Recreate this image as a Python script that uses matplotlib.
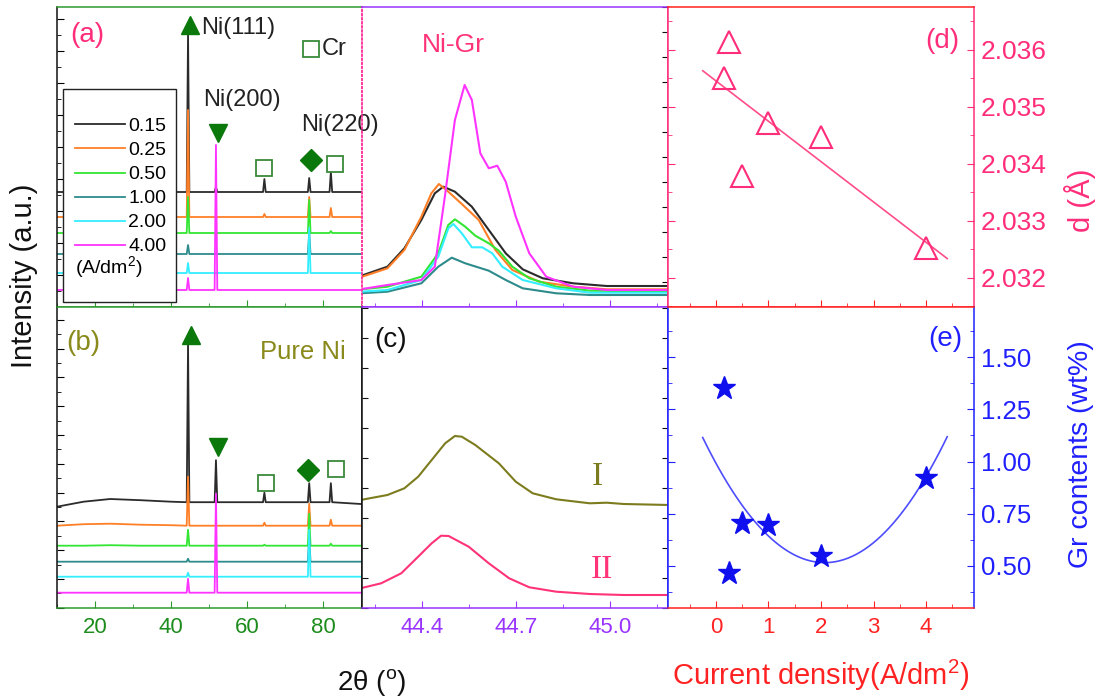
import matplotlib
matplotlib.use('Agg')
import matplotlib.pyplot as plt
import numpy as np
from matplotlib.patches import Rectangle
from matplotlib.ticker import MultipleLocator, FixedLocator, FormatStrFormatter

plt.rcParams['font.family'] = ['Liberation Sans', 'DejaVu Sans']
plt.rcParams['mathtext.fontset'] = 'custom'
plt.rcParams['mathtext.rm'] = 'Liberation Sans'
plt.rcParams['mathtext.it'] = 'Liberation Sans:italic'

# ---------------- data ----------------
current_labels = ['0.15', '0.25', '0.50', '1.00', '2.00', '4.00']
series_colors = ['#2b2b2b', '#ff7f27', '#33e633', '#2e8b8b', '#33eeff', '#ff33ff']

# XRD reflections (2theta) and peak heights above baseline (a.u.)
peak_pos = [44.5, 51.85, 64.6, 76.4, 82.1]

# (a) Ni-Gr full scans
a_base = [115, 90, 74, 53, 34, 17]
a_heights = [[159, 5, 13, 14, 20],
             [107, 0, 3, 20, 9],
             [36, 0, 0, 33, 2],
             [9, 0, 0, 22, 0],
             [10, 0, 0, 45, 0],
             [12, 145, 0, 0, 0]]

# (b) pure Ni full scans (black/orange show a broad hump at low angle)
b_base = [105.5, 82, 62, 46, 31, 15]
b_bg_x = [10, 17, 24, 32, 40, 90]
b_bg_y = [[101, 106, 108.7, 107.5, 106, 103.7],
          [82, 83.5, 84, 83, 82.5, 82],
          [62, 62, 62.5, 62, 62, 62],
          [46, 46, 46, 46, 46, 46],
          [31, 31, 31, 31, 31, 31],
          [15, 15, 15, 15, 15, 15]]
b_heights = [[159, 42, 9.5, 19, 19],
             [49, 0, 3, 22, 6],
             [16, 0, 1, 32, 2],
             [3, 0, 0, 25, 0],
             [4, 0, 0, 47, 0],
             [14, 99, 0, 0, 0]]

# markers for the reflections
a_mark_x = [45.0, 52.3, 64.6, 76.85, 83.3]
a_mark_y = [282, 174, 139, 147, 143]
b_mark_x = [45.3, 52.3, 64.9, 76.0, 83.4]
b_mark_y = [272.7, 161, 125, 137.7, 138.7]
mark_style = ['^', 'v', 's', 'D', 's']

# Ni(111) zoom, Ni-Gr
m_black_x = [44.205, 44.291, 44.345, 44.399, 44.442, 44.469, 44.506, 44.560, 44.614, 44.668, 44.722, 44.786, 44.883, 44.990, 45.19]
m_black_y = [31, 40.3, 58.7, 87, 113.7, 120.3, 115.3, 100.3, 77, 53.7, 37.7, 28.7, 23.7, 21, 21]
m_orange_x = [44.205, 44.291, 44.345, 44.399, 44.431, 44.455, 44.485, 44.528, 44.582, 44.635, 44.689, 44.775, 44.883, 44.990, 45.19]
m_orange_y = [29.7, 38.7, 57, 90.3, 113.7, 123, 115.3, 103, 87, 57, 37, 25.3, 20.3, 17.7, 17.7]
m_green_x = [44.205, 44.291, 44.399, 44.453, 44.485, 44.506, 44.539, 44.571, 44.614, 44.646, 44.689, 44.743, 44.829, 44.937, 45.19]
m_green_y = [17.7, 20.3, 30.3, 53.7, 82, 87.7, 80.3, 71.3, 63.7, 56.3, 40.3, 28.7, 20.3, 16.3, 15.3]
m_teal_x = [44.205, 44.291, 44.399, 44.453, 44.496, 44.539, 44.614, 44.668, 44.722, 44.829, 44.937, 45.19]
m_teal_y = [13.7, 15.3, 23.7, 40.3, 49.3, 43.7, 36.3, 27, 18.7, 13.7, 12, 12]
m_cyan_x = [44.205, 44.291, 44.399, 44.453, 44.485, 44.501, 44.528, 44.560, 44.593, 44.625, 44.657, 44.722, 44.829, 44.937, 45.19]
m_cyan_y = [15.3, 17, 27, 50.3, 78.7, 83, 73.7, 59.7, 59.7, 53.7, 40.3, 27, 18.7, 14.3, 14.3]
m_mag_x = [44.205, 44.291, 44.399, 44.442, 44.474, 44.506, 44.537, 44.560, 44.587, 44.614, 44.641, 44.668, 44.700, 44.743, 44.797, 44.883, 44.990, 45.19]
m_mag_y = [17.7, 22, 27, 40.3, 110.3, 187, 222, 207, 153.7, 138.7, 141.3, 125.3, 90.3, 53.7, 30.3, 20.3, 17, 17]

# Ni(111) zoom, (c) I and II
c1_x = [44.205, 44.291, 44.345, 44.389, 44.432, 44.475, 44.506, 44.528, 44.571, 44.646, 44.700, 44.754, 44.829, 44.936, 44.990, 45.044, 45.19]
c1_y = [107.7, 112.7, 119.4, 131, 147.7, 164.4, 171.7, 171, 162.7, 144.4, 126, 114.4, 108.4, 104.4, 105, 103.7, 102.7]
c2_x = [44.205, 44.271, 44.335, 44.389, 44.432, 44.462, 44.486, 44.550, 44.614, 44.679, 44.743, 44.829, 44.936, 45.044, 45.19]
c2_y = [19.4, 24.4, 34.4, 51, 64.4, 72, 71.7, 61, 44.4, 29.4, 20.4, 16, 13.7, 12.7, 12.7]

# (d) and (e) vs current density
current = [0.15, 0.25, 0.5, 1.0, 2.0, 4.0]
d_spacing = [2.03551, 2.03614, 2.03378, 2.03472, 2.03447, 2.03252]
gr_content = [1.35, 0.466, 0.708, 0.697, 0.549, 0.92]

left_ticks = [20, 40, 60, 80]
mid_ticks = [44.4, 44.7, 45.0]

# ---------------- figure ----------------
W, H = 1102, 699
fig = plt.figure(figsize=(W / 100, H / 100), dpi=100)


def box(x0, y0, x1, y1):
    return [x0 / W, 1 - y1 / H, (x1 - x0) / W, (y1 - y0) / H]


ax_a = fig.add_axes(box(57, 7, 362, 307))
ax_b = fig.add_axes(box(57, 307, 362, 607.7))
ax_m = fig.add_axes(box(362, 7, 668, 307))
ax_c = fig.add_axes(box(362, 307, 668, 607.7))
ax_d = fig.add_axes(box(668, 7, 974, 307))
ax_e = fig.add_axes(box(668, 307, 974, 607.7))

GREEN_T = '#1e8c1e'
PURPLE = '#9933ff'
RED = '#ff2222'
PINK = '#ff2d7a'
BLUE = '#2020ff'
OLIVE = '#8a8a1c'
MARK_G = '#0b780b'


def spines(ax, top, bottom, left, right):
    for side, col in zip(['top', 'bottom', 'left', 'right'], [top, bottom, left, right]):
        ax.spines[side].set_color(col)
        ax.spines[side].set_linewidth(1.1)


def trace(bg_x, bg_y, base, heights):
    xs = list(bg_x)
    ys = list(bg_y)
    for p, h in zip(peak_pos, heights):
        if h > 0:
            xs += [p - 0.35, p, p + 0.35]
            ys += [base, base + h, base]
    order = np.argsort(xs)
    return np.array(xs)[order], np.array(ys)[order]


# ---- (a) ----
lines_a = []
for i in range(6):
    x, y = trace([10, 90.5], [a_base[i], a_base[i]], a_base[i], a_heights[i])
    ln, = ax_a.plot(x, y, color=series_colors[i], lw=1.3)
    lines_a.append(ln)
for mx, my, mk in zip(a_mark_x, a_mark_y, mark_style):
    if mk == 's':
        ax_a.plot(mx, my, mk, ms=11, mfc='white', mec='#3a8a3a', mew=1.3)
    else:
        ax_a.plot(mx, my, mk, ms=13 if mk != 'D' else 11, color=MARK_G)
ax_a.plot(76.85, 257.7, 's', ms=11, mfc='white', mec='#3a8a3a', mew=1.3)
ax_a.text(79.7, 257.7, 'Cr', fontsize=17, va='center', ha='left', color='#222222')
ax_a.text(48.0, 278.7, 'Ni(111)', fontsize=17, va='center', ha='left', color='#222222')
ax_a.text(48.4, 207, 'Ni(200)', fontsize=17, va='center', ha='left', color='#222222')
ax_a.text(74.2, 182, 'Ni(220)', fontsize=17, va='center', ha='left', color='#222222',
          zorder=10)
ax_a.text(17.9, 272, '(a)', fontsize=20, va='center', ha='center', color=PINK)

# legend frame drawn separately so its padding can match the original box
ax_a.add_patch(Rectangle((0.0197, 0.0177), 0.3705, 0.709, transform=ax_a.transAxes,
                         fc='white', ec='#222222', lw=1.0, zorder=4))
leg = ax_a.legend(handles=lines_a, labels=current_labels, loc='upper left',
                  bbox_to_anchor=(0.0197, 0.67), borderaxespad=0, frameon=False,
                  fontsize=14, handlelength=2.6, handletextpad=0.15, labelspacing=0.33,
                  borderpad=0.6, title='(A/dm$^{\\mathregular{2}}$)', title_fontsize=14,
                  alignment='left')
leg.set_zorder(5)
# units line goes under the entries, as in the original
leg._legend_box._children.reverse()
leg._legend_box.sep = -0.8

ax_a.set_xlim(10, 90.3)
ax_a.set_ylim(0, 300)
spines(ax_a, '#2e9a2e', '#2e9a2e', '#111111', '#ff3399')
ax_a.spines['right'].set_linestyle(':')
ax_a.xaxis.set_major_locator(FixedLocator(left_ticks))
ax_a.xaxis.set_minor_locator(MultipleLocator(10))
ax_a.yaxis.set_major_locator(MultipleLocator(32))
ax_a.yaxis.set_minor_locator(MultipleLocator(16))
ax_a.tick_params(which='both', direction='in', labelbottom=False, labelleft=False,
                 right=False, top=False)
ax_a.tick_params(axis='x', which='both', colors='#2e9a2e')
ax_a.tick_params(which='major', length=5)
ax_a.tick_params(which='minor', length=3)

# ---- (b) ----
for i in range(6):
    x, y = trace(b_bg_x, b_bg_y[i], b_base[i], b_heights[i])
    ax_b.plot(x, y, color=series_colors[i], lw=1.3)
for mx, my, mk in zip(b_mark_x, b_mark_y, mark_style):
    if mk == 's':
        ax_b.plot(mx, my, mk, ms=11, mfc='white', mec='#3a8a3a', mew=1.3)
    else:
        ax_b.plot(mx, my, mk, ms=13 if mk != 'D' else 11, color=MARK_G)
ax_b.text(16.9, 264.4, '(b)', fontsize=20, va='center', ha='center', color=OLIVE)
ax_b.text(74.7, 256, 'Pure Ni', fontsize=18.5, va='center', ha='center', color=OLIVE)
ax_b.set_xlim(10, 90.3)
ax_b.set_ylim(0, 300.7)
spines(ax_b, '#2e9a2e', '#2e9a2e', '#111111', '#111111')
ax_b.xaxis.set_major_locator(FixedLocator(left_ticks))
ax_b.xaxis.set_minor_locator(MultipleLocator(10))
ax_b.yaxis.set_major_locator(MultipleLocator(28.8))
ax_b.yaxis.set_minor_locator(MultipleLocator(14.4))
ax_b.tick_params(which='both', direction='in', labelleft=False, right=False, top=False)
ax_b.tick_params(axis='x', which='both', colors='#2e9a2e', labelcolor=GREEN_T,
                 labelsize=16, pad=7)
ax_b.tick_params(which='major', length=5)
ax_b.tick_params(which='minor', length=3)

# ---- Ni-Gr zoom ----
ax_m.set_facecolor('none')
for xs, ys, col in zip([m_black_x, m_orange_x, m_green_x, m_teal_x, m_cyan_x, m_mag_x],
                       [m_black_y, m_orange_y, m_green_y, m_teal_y, m_cyan_y, m_mag_y],
                       series_colors):
    ax_m.plot(xs, ys, color=col, lw=1.5)
ax_m.text(44.501, 262, 'Ni-Gr', fontsize=19, ha='center', va='center', color='#ff3377')
ax_m.set_xlim(44.21, 45.185)
ax_m.set_ylim(0, 300)
spines(ax_m, PURPLE, PURPLE, '#ff3399', PINK)
ax_m.spines['left'].set_linestyle(':')
ax_m.xaxis.set_major_locator(FixedLocator(mid_ticks))
ax_m.xaxis.set_minor_locator(MultipleLocator(0.15))
ax_m.yaxis.set_major_locator(MultipleLocator(25))
ax_m.tick_params(which='both', direction='in', labelbottom=False, labelleft=False,
                 left=False, right=True, top=False)
ax_m.tick_params(axis='x', which='both', colors=PURPLE)
ax_m.tick_params(axis='y', colors='#111111', length=4)
ax_m.tick_params(axis='x', which='major', length=5)
ax_m.tick_params(axis='x', which='minor', length=3)

# ---- (c) ----
ax_c.plot(c1_x, c1_y, color='#7c7c1e', lw=1.5)
ax_c.plot(c2_x, c2_y, color='#ff3377', lw=1.5)
ax_c.text(44.302, 267.7, '(c)', fontsize=20, ha='center', va='center', color='#111111')
ax_c.text(44.96, 131, 'I', fontsize=24, ha='center', va='center', color='#7c7c1e',
          family='Liberation Serif')
ax_c.text(44.974, 38.4, 'II', fontsize=24, ha='center', va='center', color='#ff3377',
          family='Liberation Serif')
ax_c.set_xlim(44.21, 45.185)
ax_c.set_ylim(0, 300.7)
spines(ax_c, PURPLE, PURPLE, '#111111', BLUE)
ax_c.xaxis.set_major_locator(FixedLocator(mid_ticks))
ax_c.xaxis.set_major_formatter(FormatStrFormatter('%.1f'))
ax_c.xaxis.set_minor_locator(MultipleLocator(0.15))
ax_c.yaxis.set_major_locator(MultipleLocator(30))
ax_c.tick_params(which='both', direction='in', labelleft=False, left=True, right=True,
                 top=False)
ax_c.tick_params(axis='x', which='both', colors=PURPLE, labelsize=16, pad=7)
ax_c.tick_params(axis='y', colors='#111111', length=4)
ax_c.tick_params(axis='x', which='major', length=5)
ax_c.tick_params(axis='x', which='minor', length=3)

# ---- (d) ----
d_fit = np.polyfit(current, d_spacing, 1)
fx = np.linspace(-0.25, 4.4, 60)
ax_d.plot(fx, np.polyval(d_fit, fx), color='#ff4d88', lw=1.2)
ax_d.plot(current, d_spacing, '^', ms=16, mfc='none', mec='#ff2d7a', mew=1.5)
ax_d.text(4.30, 2.03615, '(d)', fontsize=20, ha='center', va='center', color=PINK)
ax_d.set_xlim(-0.91, 4.91)
ax_d.set_ylim(2.03149, 2.03675)
spines(ax_d, RED, RED, PINK, PINK)
ax_d.xaxis.set_major_locator(MultipleLocator(1))
ax_d.xaxis.set_minor_locator(MultipleLocator(0.5))
ax_d.yaxis.set_major_locator(MultipleLocator(0.001))
ax_d.yaxis.set_minor_locator(MultipleLocator(0.0005))
ax_d.yaxis.set_major_formatter(FormatStrFormatter('%.3f'))
ax_d.tick_params(which='both', direction='in', labelbottom=False, labelleft=False,
                 labelright=True, left=True, right=True, top=False)
ax_d.tick_params(axis='x', which='both', colors=RED)
ax_d.tick_params(axis='y', which='both', colors=PINK, labelsize=19, pad=5)
ax_d.tick_params(which='major', length=5)
ax_d.tick_params(which='minor', length=3)

# ---- (e) ----
e_fit = np.polyfit(current, gr_content, 2)
ax_e.plot(fx, np.polyval(e_fit, fx), color='#4d4dff', lw=1.2)
ax_e.plot(current, gr_content, '*', ms=17, color='#1010ee')
ax_e.text(4.36, 1.589, '(e)', fontsize=20, ha='center', va='center', color=BLUE)
ax_e.set_xlim(-0.91, 4.91)
ax_e.set_ylim(0.30, 1.74)
spines(ax_e, RED, RED, BLUE, BLUE)
ax_e.xaxis.set_major_locator(MultipleLocator(1))
ax_e.xaxis.set_minor_locator(MultipleLocator(0.5))
ax_e.xaxis.set_major_formatter(FormatStrFormatter('%d'))
ax_e.yaxis.set_major_locator(MultipleLocator(0.25))
ax_e.yaxis.set_minor_locator(MultipleLocator(0.125))
ax_e.yaxis.set_major_formatter(FormatStrFormatter('%.2f'))
ax_e.tick_params(which='both', direction='in', labelleft=False, labelright=True,
                 left=True, right=True, top=False)
ax_e.tick_params(axis='x', which='both', colors=RED, labelsize=16, pad=7)
ax_e.tick_params(axis='y', which='both', colors=BLUE, labelsize=18.5, pad=5)
ax_e.tick_params(which='major', length=5)
ax_e.tick_params(which='minor', length=3)
ax_e.set_xlabel('Current density(A/dm$^{\\mathregular{2}}$)', fontsize=21, color=RED,
                labelpad=14)

# ---- shared labels ----
fig.text(24 / W, 1 - 276 / H, 'Intensity (a.u.)', rotation=90, fontsize=21,
         ha='center', va='center', color='#111111')
fig.text(372 / W, 1 - 682 / H, '2θ ($^{\\mathregular{o}}$)', fontsize=20,
         ha='center', va='center', color='#111111')
fig.text(1080 / W, 1 - 200 / H, 'd (Å)', rotation=90, fontsize=21,
         ha='center', va='center', color=PINK)
fig.text(1081 / W, 1 - 454 / H, 'Gr contents (wt%)', rotation=90, fontsize=20.5,
         ha='center', va='center', color=BLUE)

fig.savefig('out.png', dpi=100)
